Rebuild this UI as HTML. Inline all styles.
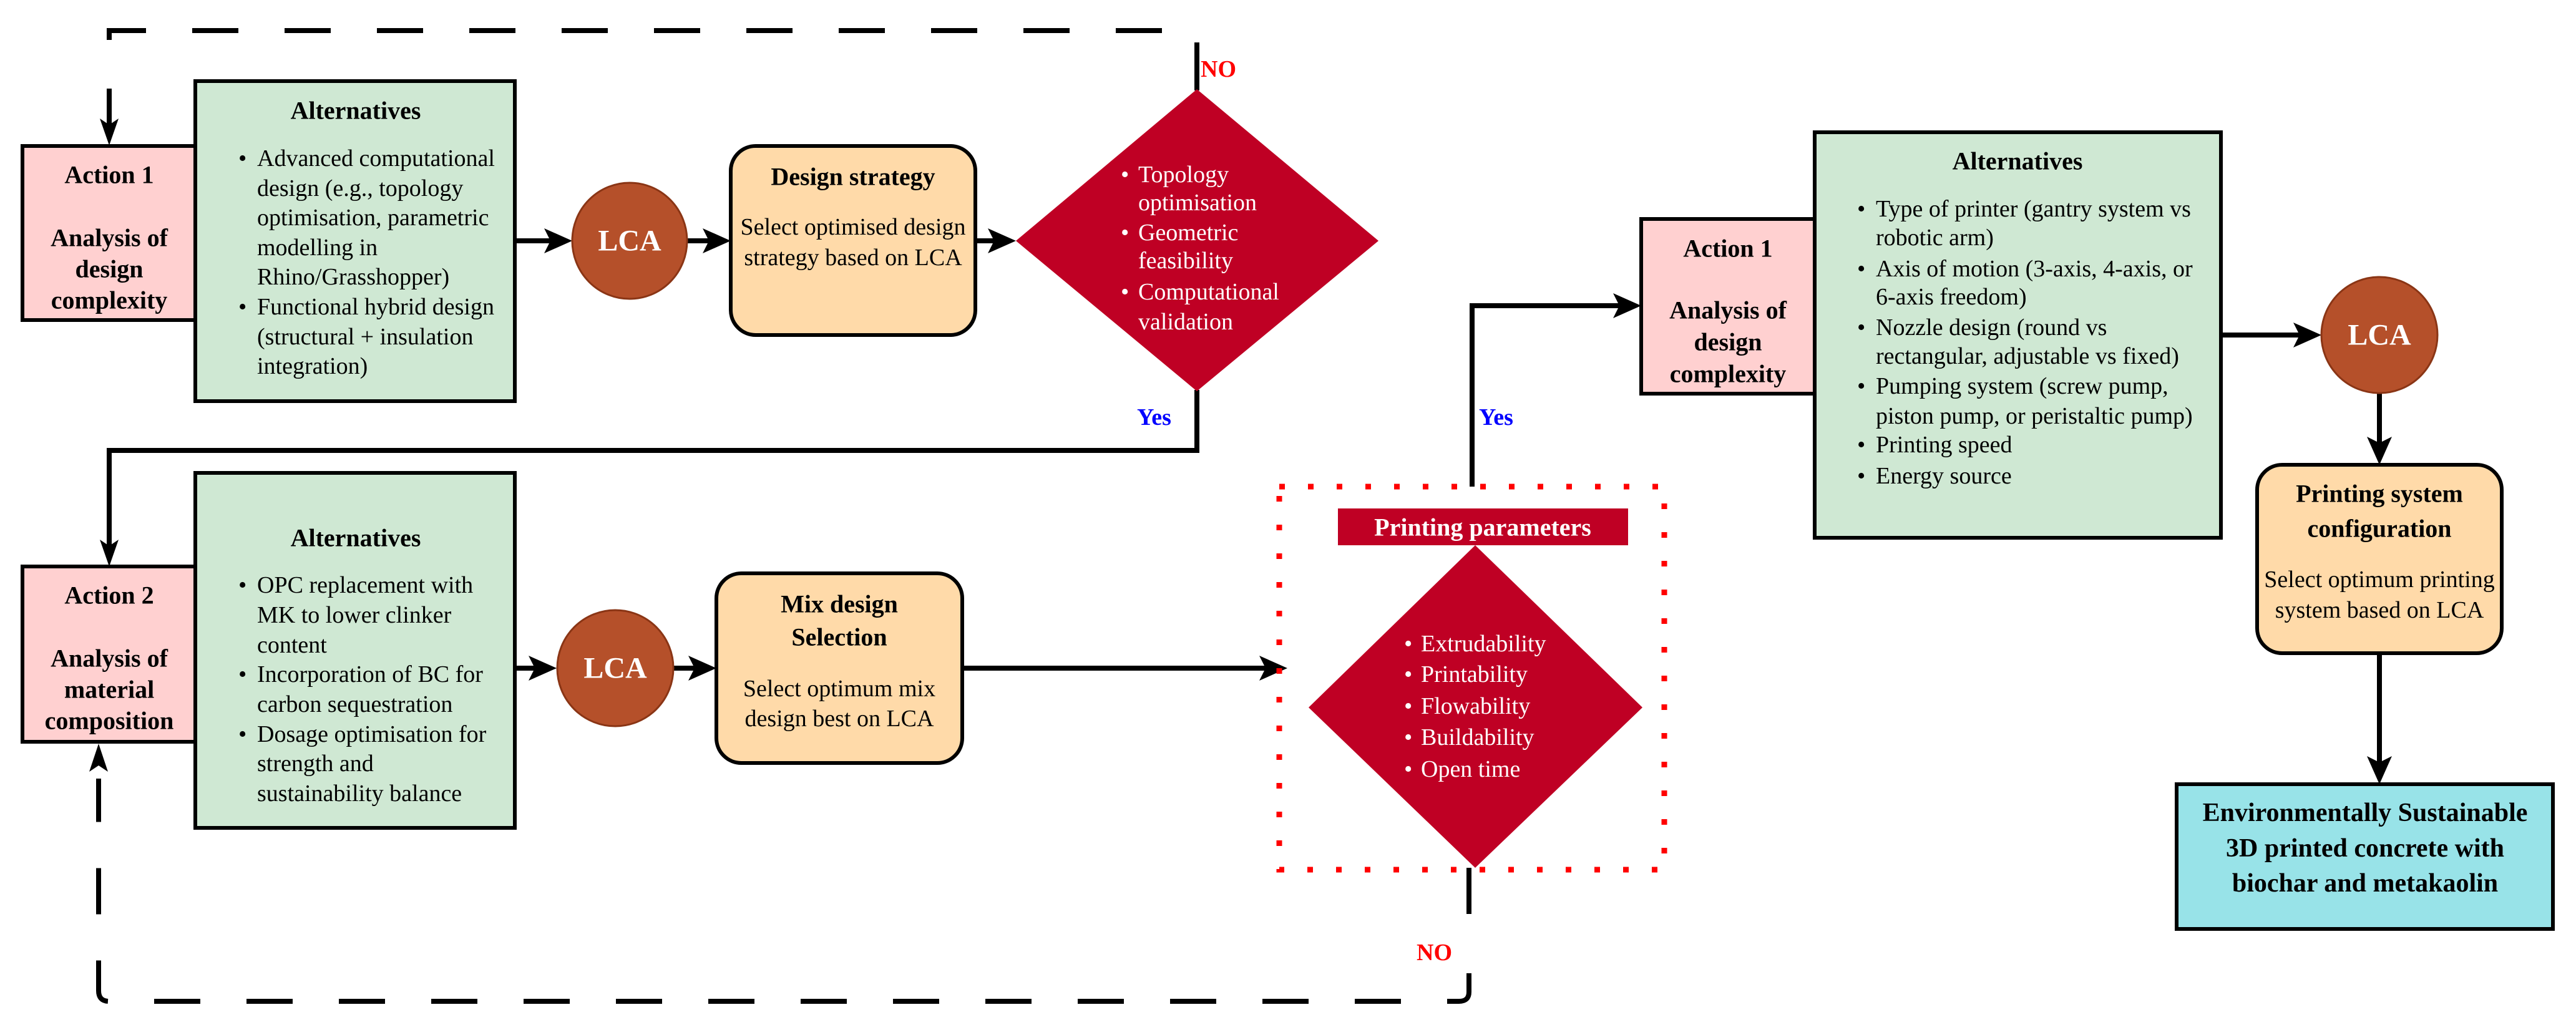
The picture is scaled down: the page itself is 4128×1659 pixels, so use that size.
<!DOCTYPE html>
<html><head><meta charset="utf-8"><style>
html,body{margin:0;padding:0;background:#fff}
svg{display:block}
text{font-family:"Liberation Serif",serif}
.b{font-weight:bold}
</style></head><body>
<svg width="4128" height="1659" viewBox="0 0 4128 1659" xmlns="http://www.w3.org/2000/svg">
<g stroke="#000" stroke-width="8" fill="none">
<path d="M1862 49 H175 V115" stroke-dasharray="74 74"/>
<line x1="175" y1="142" x2="175" y2="205"/>
<line x1="1918" y1="68" x2="1918" y2="145"/>
<path d="M1918 625 V722 H175 V880"/>
<path d="M2354 1391 V1465"/>
<path d="M2354 1560 V1590 Q2354 1605 2338 1605 H175 Q158 1605 158 1588 V1248" stroke-dasharray="74 74"/>
<line x1="825" y1="386" x2="890" y2="386"/>
<line x1="1101" y1="386" x2="1140" y2="386"/>
<line x1="1563" y1="386" x2="1600" y2="386"/>
<line x1="825" y1="1071" x2="862" y2="1071"/>
<line x1="1079" y1="1071" x2="1120" y2="1071"/>
<line x1="1542" y1="1071" x2="2030" y2="1071"/>
<path d="M2359 780 V490 H2600"/>
<line x1="3559" y1="537" x2="3690" y2="537"/>
<line x1="3813" y1="630" x2="3813" y2="715"/>
<line x1="3813" y1="1047" x2="3813" y2="1225"/>
</g>
<g fill="#000">
<polygon points="175,233 160,190 175,200 190,190"/>
<polygon points="175,908 160,865 175,875 190,865"/>
<polygon points="158,1192 143,1237 158,1227 173,1237"/>
<polygon points="917,386 872,366 882,386 872,406"/>
<polygon points="1171,386 1126,366 1136,386 1126,406"/>
<polygon points="1628,386 1583,366 1593,386 1583,406"/>
<polygon points="892,1071 847,1051 857,1071 847,1091"/>
<polygon points="1148,1071 1103,1051 1113,1071 1103,1091"/>
<polygon points="2063,1071 2018,1051 2028,1071 2018,1091"/>
<polygon points="2630,490 2585,470 2595,490 2585,510"/>
<polygon points="3720,537 3675,517 3685,537 3675,557"/>
<polygon points="3813,745 3793,700 3813,710 3833,700"/>
<polygon points="3813,1257 3793,1212 3813,1222 3833,1212"/>
</g>
<g stroke="#000" stroke-width="6">
<rect x="36" y="234" width="277" height="279" fill="#ffd0d0"/>
<rect x="313" y="130" width="512" height="513" fill="#cfe8d3"/>
<rect x="1171" y="234" width="392" height="303" rx="40" fill="#ffdaa9"/>
<rect x="36" y="908" width="277" height="281" fill="#ffd0d0"/>
<rect x="313" y="758" width="512" height="569" fill="#cfe8d3"/>
<rect x="1148" y="919" width="394" height="304" rx="40" fill="#ffdaa9"/>
<rect x="2630" y="351" width="278" height="280" fill="#ffd0d0"/>
<rect x="2908" y="212" width="651" height="650" fill="#cfe8d3"/>
<rect x="3617" y="745" width="392" height="302" rx="40" fill="#ffdaa9"/>
<rect x="3488" y="1257" width="603" height="232" fill="#98e3e8"/>
</g>
<g fill="#b5502a" stroke="#8a3515" stroke-width="3">
<ellipse cx="1009" cy="386" rx="92" ry="93"/>
<ellipse cx="986" cy="1071" rx="93" ry="93"/>
<ellipse cx="3813" cy="537" rx="93" ry="93"/>
</g>
<polygon points="1918,143 2209,386 1918,627 1628,386" fill="#bf0024"/>
<rect x="2050" y="780" width="617" height="614" fill="none" stroke="#f00" stroke-width="9" stroke-dasharray="9 37"/>
<rect x="2144" y="815" width="465" height="59" fill="#bf0024"/>
<polygon points="2364,874 2632,1134 2364,1391 2097,1134" fill="#bf0024"/>

<g dominant-baseline="central" font-size="38">
<g class="b" text-anchor="middle" font-size="40">
<text x="175" y="280">Action 1</text>
<text x="175" y="381">Analysis of</text>
<text x="175" y="431">design</text>
<text x="175" y="481">complexity</text>
<text x="570" y="177">Alternatives</text>
<text x="1367" y="283">Design strategy</text>
<text x="175" y="954">Action 2</text>
<text x="175" y="1055">Analysis of</text>
<text x="175" y="1105">material</text>
<text x="175" y="1155">composition</text>
<text x="570" y="862">Alternatives</text>
<text x="1345" y="968">Mix design</text>
<text x="1345" y="1021">Selection</text>
<text x="2769" y="398">Action 1</text>
<text x="2769" y="497">Analysis of</text>
<text x="2769" y="548">design</text>
<text x="2769" y="599">complexity</text>
<text x="3233" y="258">Alternatives</text>
<text x="3813" y="791">Printing system</text>
<text x="3813" y="847">configuration</text>
<text x="2376" y="845" fill="#fff">Printing parameters</text>
<text x="1009" y="386" fill="#fff" font-size="48">LCA</text>
<text x="986" y="1071" fill="#fff" font-size="48">LCA</text>
<text x="3813" y="537" fill="#fff" font-size="48">LCA</text>
<text x="3790" y="1303" font-size="42">Environmentally Sustainable</text>
<text x="3790" y="1360" font-size="42">3D printed concrete with</text>
<text x="3790" y="1416" font-size="42">biochar and metakaolin</text>
</g>
<g class="b" font-size="38">
<text x="1924" y="111" fill="#f00">NO</text>
<text x="1822" y="669" fill="#00f">Yes</text>
<text x="2370" y="669" fill="#00f">Yes</text>
<text x="2270" y="1527" fill="#f00">NO</text>
</g>
<g font-size="38">
<text x="382" y="254">•</text><text x="412" y="254">Advanced computational</text>
<text x="412" y="302">design (e.g., topology</text>
<text x="412" y="349">optimisation, parametric</text>
<text x="412" y="397">modelling in</text>
<text x="412" y="444">Rhino/Grasshopper)</text>
<text x="382" y="492">•</text><text x="412" y="492">Functional hybrid design</text>
<text x="412" y="540">(structural + insulation</text>
<text x="412" y="587">integration)</text>
<text x="1367" y="364" text-anchor="middle">Select optimised design</text>
<text x="1367" y="413" text-anchor="middle">strategy based on LCA</text>
<g fill="#fff">
<text x="1796" y="280">•</text><text x="1824" y="280">Topology</text>
<text x="1824" y="325">optimisation</text>
<text x="1796" y="373">•</text><text x="1824" y="373">Geometric</text>
<text x="1824" y="418">feasibility</text>
<text x="1796" y="468">•</text><text x="1824" y="468">Computational</text>
<text x="1824" y="516">validation</text>
<text x="2250" y="1032">•</text><text x="2277" y="1032">Extrudability</text>
<text x="2250" y="1081">•</text><text x="2277" y="1081">Printability</text>
<text x="2250" y="1132">•</text><text x="2277" y="1132">Flowability</text>
<text x="2250" y="1182">•</text><text x="2277" y="1182">Buildability</text>
<text x="2250" y="1233">•</text><text x="2277" y="1233">Open time</text>
</g>
<text x="382" y="938">•</text><text x="412" y="938">OPC replacement with</text>
<text x="412" y="986">MK to lower clinker</text>
<text x="412" y="1034">content</text>
<text x="382" y="1081">•</text><text x="412" y="1081">Incorporation of BC for</text>
<text x="412" y="1129">carbon sequestration</text>
<text x="382" y="1177">•</text><text x="412" y="1177">Dosage optimisation for</text>
<text x="412" y="1224">strength and</text>
<text x="412" y="1272">sustainability balance</text>
<text x="1345" y="1104" text-anchor="middle">Select optimum mix</text>
<text x="1345" y="1152" text-anchor="middle">design best on LCA</text>
<text x="2976" y="335">•</text><text x="3006" y="335">Type of printer  (gantry system vs</text>
<text x="3006" y="381">robotic arm)</text>
<text x="2976" y="431">•</text><text x="3006" y="431">Axis of motion (3-axis, 4-axis, or</text>
<text x="3006" y="476">6-axis freedom)</text>
<text x="2976" y="525">•</text><text x="3006" y="525"> Nozzle design (round vs</text>
<text x="3006" y="571">rectangular, adjustable vs fixed)</text>
<text x="2976" y="619">•</text><text x="3006" y="619">Pumping system (screw pump,</text>
<text x="3006" y="667">piston pump, or peristaltic pump)</text>
<text x="2976" y="713">•</text><text x="3006" y="713">Printing speed</text>
<text x="2976" y="763">•</text><text x="3006" y="763">Energy source</text>
<text x="3813" y="929" text-anchor="middle">Select optimum printing</text>
<text x="3813" y="978" text-anchor="middle">system based on LCA</text>
</g>
</g>
</svg>
</body></html>
